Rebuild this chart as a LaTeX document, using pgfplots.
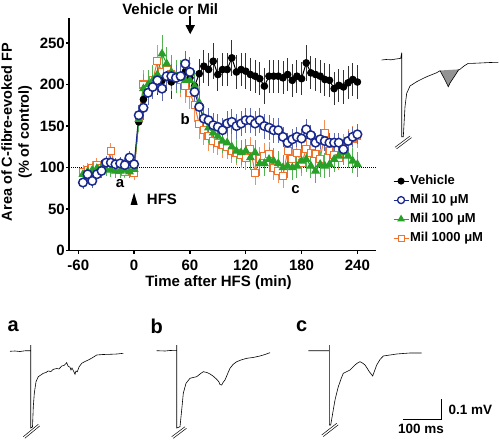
\documentclass[border=0pt]{standalone}
\usepackage{pgfplots}
\pgfplotsset{compat=1.18}
\usepackage{pgfplotstable}
\usepackage{fontspec}
\setmainfont{Liberation Sans}
\usetikzlibrary{arrows.meta}
\definecolor{mBlue}{RGB}{25,40,140}
\definecolor{mGreen}{RGB}{40,160,40}
\definecolor{mOrange}{RGB}{240,115,45}

\pgfplotstableread{
x y e
-55 93 6
-50 96 6
-45 98 6
-40 100 6
-35 103 6
-30 101 6
-25 104 6
-20 101 6
-15 103 6
-10 102 6
-5 101 6
0 100 6
5 155 12
10 182 15
15 192 15
20 198 15
25 205 18
30 205 18
35 212 20
40 203 20
45 210 20
50 208 20
55 215 20
60 208 20
65 198 20
70 213 18
75 222 20
80 218 20
85 228 22
90 212 20
95 218 20
100 218 20
105 232 22
110 215 20
115 218 20
120 216 22
125 212 20
130 210 20
135 207 20
140 198 22
145 210 20
150 210 20
155 210 20
160 208 20
165 212 20
170 205 20
175 210 20
180 207 20
185 226 22
190 214 20
195 212 20
200 210 20
205 206 20
210 205 20
215 195 20
220 199 20
225 197 20
230 202 20
235 206 20
240 203 20
}\tblV

\pgfplotstableread{
x y e
-55 82 8
-50 92 8
-45 84 8
-40 92 8
-35 96 8
-30 106 8
-25 106 8
-20 104 8
-15 105 8
-10 103 8
-5 112 8
0 104 8
5 163 12
10 172 15
15 190 15
20 197 15
25 205 15
30 195 15
35 210 15
40 210 15
45 208 15
50 210 15
55 225 15
60 215 18
65 191 18
70 173 18
75 159 15
80 157 15
85 151 15
90 149 15
95 145 15
100 153 15
105 155 15
110 150 15
115 153 15
120 157 15
125 157 15
130 153 15
135 157 15
140 150 15
145 148 15
150 145 15
155 145 15
160 137 12
165 130 12
170 134 12
175 137 12
180 135 12
185 146 12
190 139 12
195 130 12
200 134 12
205 132 12
210 130 12
215 130 12
220 130 12
225 122 12
230 132 12
235 137 12
240 140 12
}\tblB

\pgfplotstableread{
x y e
-55 92 8
-50 95 8
-45 97 8
-40 99 8
-35 100 8
-30 98 8
-25 97 8
-20 96 8
-15 96 8
-10 97 8
-5 95 8
0 98 8
5 158 15
10 195 18
15 200 18
20 205 18
25 212 20
30 237 22
35 225 20
40 215 20
45 210 20
50 210 20
55 205 20
60 205 20
65 198 20
70 178 20
75 158 18
80 148 18
85 142 18
90 138 15
95 132 15
100 130 15
105 125 15
110 120 15
115 118 15
120 120 15
125 112 15
130 118 15
135 105 15
140 105 15
145 110 15
150 108 15
155 105 15
160 100 15
165 102 15
170 100 15
175 102 15
180 108 15
185 110 15
190 102 15
195 96 15
200 104 15
205 102 15
210 104 15
215 110 15
220 114 15
225 118 15
230 114 15
235 108 15
240 104 15
}\tblG

\pgfplotstableread{
x y e
-55 95 8
-50 97 8
-45 100 8
-40 103 8
-35 100 8
-30 99 8
-25 120 10
-20 100 8
-15 97 8
-10 95 8
-5 98 8
0 93 8
5 160 15
10 200 18
15 195 18
20 205 18
25 228 20
30 215 20
35 218 20
40 212 20
45 210 20
50 205 20
55 198 20
60 190 20
65 175 20
70 152 18
75 145 18
80 138 18
85 132 15
90 130 15
95 127 15
100 125 15
105 120 15
110 118 15
115 115 15
120 112 15
125 122 15
130 94 15
135 110 15
140 114 15
145 116 15
150 100 15
155 96 15
160 90 15
165 120 15
170 110 15
175 118 15
180 105 15
185 122 15
190 118 15
195 116 15
200 110 15
205 142 15
210 120 15
215 115 15
220 112 15
225 125 15
230 132 15
235 135 15
240 138 15
}\tblO

\begin{document}
\begin{tikzpicture}
% ---------- overlay axis for traces ----------
\begin{axis}[at={(0pt,0pt)}, anchor=south west, scale only axis,
  width=499pt, height=442pt, xmin=0, xmax=499, ymin=0, ymax=442,
  y dir=reverse, hide axis, clip=false]
% trace a
\addplot[black, line width=0.6pt] coordinates {(10,351.3)(15,351)(20,351.5)(25,350.8)(30.7,350.7)(30.7,345)(30.7,428)(32.5,427)(33.3,406.7)(34.3,393.3)(36,381.7)(38.3,376.7)(43.3,373.3)(46,372.5)(48,371)(51,371.5)(53.3,369.3)(57,368.5)(59,369)(61.7,366)(64,365.5)(66.7,362.7)(68,366)(70,367.3)(71,370)(72,368)(74,372)(75,374.3)(76,371)(77.3,371.7)(79,367)(81.7,363.3)(85,361.5)(88.3,360)(92,358)(96.7,355)(103,354.5)(110,354.3)(117,354)(123.3,353.3)};
\addplot[black, line width=0.5pt] coordinates {(23.3,436.7)(38.3,424.3)};
\addplot[black, line width=0.5pt] coordinates {(24.8,438.3)(39.8,425.9)};
% trace b
\addplot[black, line width=0.6pt] coordinates {(156.7,350.7)(165,351)(170,350.5)(176.7,350.7)(176.7,345)(176.7,428)(180,426.7)(181.7,410)(183.3,393.3)(186,383.3)(190,378.3)(193,377.5)(196.7,376.7)(200,374)(203.3,371.7)(207,372.5)(210,374)(213,376)(216.7,379.3)(219,382)(220,384.5)(221.7,385)(223,382.5)(225,380)(227.5,374)(230,368.3)(233,364.5)(236.7,361.7)(241,360)(246.7,358.3)(253,357.5)(260,356)(265,354.5)(270,352.7)};
\addplot[black, line width=0.5pt] coordinates {(171.7,436.7)(185,426.7)};
\addplot[black, line width=0.5pt] coordinates {(173.2,438.3)(186.5,428.3)};
% trace c
\addplot[black, line width=0.6pt] coordinates {(308.3,350.7)(315,350.7)(322,350.7)(329.3,350.7)(329.3,345)(329.3,425)(330.7,425)(332.7,413.3)(335,400)(338.3,386.7)(341,379)(343.3,373.3)(346,372)(350,370)(352.5,367.5)(355,365)(357.5,363)(360,361.7)(362.5,363)(365,365)(367,368)(369.3,371.7)(372.7,376)(374.5,371)(376.7,365)(380,359.5)(383.3,356)(390,355)(396.7,354)(403,353.5)(410,353)(416,353)(421.7,353)};
\addplot[black, line width=0.5pt] coordinates {(321.7,435)(336.7,423.3)};
\addplot[black, line width=0.5pt] coordinates {(323.2,436.6)(338.2,424.9)};
% scale bar
\addplot[black, line width=0.7pt] coordinates {(403.3,419.3)(441.7,419.3)(441.7,399.3)};
\node[anchor=west, font=\fontsize{13.5}{13.5}\selectfont\bfseries] at (axis cs:445,410) {0.1 mV};
\node[font=\fontsize{13.5}{13.5}\selectfont\bfseries] at (axis cs:421,429) {100 ms};
\node[font=\fontsize{20}{20}\selectfont\bfseries] at (axis cs:13.3,326.7) {a};
\node[font=\fontsize{20}{20}\selectfont\bfseries] at (axis cs:156.7,326.7) {b};
\node[font=\fontsize{20}{20}\selectfont\bfseries] at (axis cs:301.7,326.7) {c};
% inset trace
\addplot[fill=gray!85, draw=none] coordinates {(440,70.5)(460,69.3)(456,74)(452,80)(448.3,86.7)(444,78)(440,70.5)};
\addplot[black, line width=0.6pt] coordinates {(381.7,60)(386,59.5)(391,59.8)(396,59)(400.7,58.3)(401.7,52.7)(401.7,136.7)(403.3,136.7)(405,106.7)(406.7,93.3)(410,86)(416.7,81.7)(421,79.5)(426.7,76.7)(431,75)(436.7,72.7)(440,70.7)(444,78)(446,82)(448.3,86.7)(450,83)(452,80)(456,74)(458.3,70)(460,69.3)(464,66)(468.3,63.3)(473.3,63.3)(480,63)(490,62.5)(498.3,62.3)};
\addplot[black, line width=0.5pt] coordinates {(395,147.3)(410,136)};
\addplot[black, line width=0.5pt] coordinates {(396.5,148.9)(411.5,137.6)};
\end{axis}

% ---------- main axis ----------
\begin{axis}[at={(69pt,191.3pt)}, anchor=south west, scale only axis,
  width=307pt, height=232.7pt,
  xmin=-70, xmax=260, ymin=0, ymax=280,
  axis lines=left, axis line style={-, line width=1.3pt},
  xtick={-60,0,...,240}, ytick={0,50,...,250},
  tick align=outside, major tick length=3pt,
  tick style={line width=1.3pt, black},
  /pgf/number format/assume math mode=true,
  tick label style={font=\fontsize{15}{15}\selectfont\bfseries, inner sep=1pt},
  xticklabel style={yshift=-5pt},
  clip=false,
  xlabel={Time after HFS (min)},
  xlabel style={font=\fontsize{15}{15}\selectfont\bfseries, at={(axis description cs:0.487,-0.139)}, anchor=center},
  ylabel={Area of C-fibre-evoked FP\\(\% of control)},
  ylabel style={font=\fontsize{14.5}{17}\selectfont\bfseries, align=center, inner sep=0pt, at={(axis description cs:-0.12,0.51)}, anchor=south},
  legend style={at={(axis description cs:1.055,0.33)}, anchor=north west, draw=none, fill=none, inner sep=0pt,
    font=\fontsize{13}{13}\selectfont\bfseries, row sep=5pt,
    nodes={inner sep=1pt, text height=9.5pt, text depth=2.5pt}},
  legend cell align=left,
  legend image code/.code={\draw[mark repeat=2,mark phase=2] plot coordinates {(0pt,0pt)(7.5pt,0pt)(15pt,0pt)};},
]
\addlegendimage{black, line width=1pt, mark=*, mark size=3pt, mark options={fill=black}}
\addlegendentry{Vehicle}
\addlegendimage{mBlue, line width=1pt, mark=*, mark size=3.5pt, mark options={fill=white, line width=1.3pt}}
\addlegendentry{Mil 10 μM}
\addlegendimage{mGreen, line width=1pt, mark=triangle*, mark size=3.5pt, mark options={fill=mGreen}}
\addlegendentry{Mil 100 μM}
\addlegendimage{mOrange, line width=1pt, mark=square*, mark size=3pt, mark options={fill=white, line width=1pt}}
\addlegendentry{Mil 1000 μM}

\addplot[black, densely dotted, line width=1pt, forget plot] coordinates {(-70,100)(260,100)};

\addplot[black, line width=1pt, mark=*, mark size=3.3pt, mark options={fill=black}, forget plot,
  error bars/.cd, y dir=both, y explicit, error mark=none, error bar style={line width=0.9pt, black!80}]
  table[x=x, y=y, y error=e]{\tblV};
\addplot[mOrange, line width=1pt, mark=square*, mark size=3.5pt, mark options={fill=white, line width=1.1pt}, forget plot,
  error bars/.cd, y dir=both, y explicit, error mark=none, error bar style={line width=0.9pt, mOrange!80}]
  table[x=x, y=y, y error=e]{\tblO};
\addplot[mGreen, line width=1pt, mark=triangle*, mark size=4.2pt, mark options={fill=mGreen}, forget plot,
  error bars/.cd, y dir=both, y explicit, error mark=none, error bar style={line width=0.9pt, mGreen!80}]
  table[x=x, y=y, y error=e]{\tblG};
\addplot[mBlue, line width=1pt, mark=*, mark size=4.3pt, mark options={fill=white, line width=1.5pt}, forget plot,
  error bars/.cd, y dir=both, y explicit, error mark=none, error bar style={line width=0.9pt, mBlue!70}]
  table[x=x, y=y, y error=e]{\tblB};

\node[font=\fontsize{15}{15}\selectfont\bfseries] at (axis cs:38.8,290.7) {Vehicle or Mil};
\draw[line width=1.5pt, -{Triangle[width=9pt,length=9pt]}] (axis cs:60.3,282.6) -- (axis cs:60.3,260.5);
\fill[black] (axis cs:0,69.7) -- (axis cs:-3.8,55.2) -- (axis cs:3.8,55.2) -- cycle;
\node[anchor=west, font=\fontsize{15}{15}\selectfont\bfseries] at (axis cs:10,62.4) {HFS};
\node[font=\fontsize{15}{15}\selectfont\bfseries] at (axis cs:-15,80.6) {a};
\node[font=\fontsize{15}{15}\selectfont\bfseries] at (axis cs:55,157.7) {b};
\node[font=\fontsize{15}{15}\selectfont\bfseries] at (axis cs:173.5,73) {c};
\end{axis}
\pgfresetboundingbox
\useasboundingbox (0pt,0pt) rectangle (499pt,442pt);
\end{tikzpicture}
\end{document}
